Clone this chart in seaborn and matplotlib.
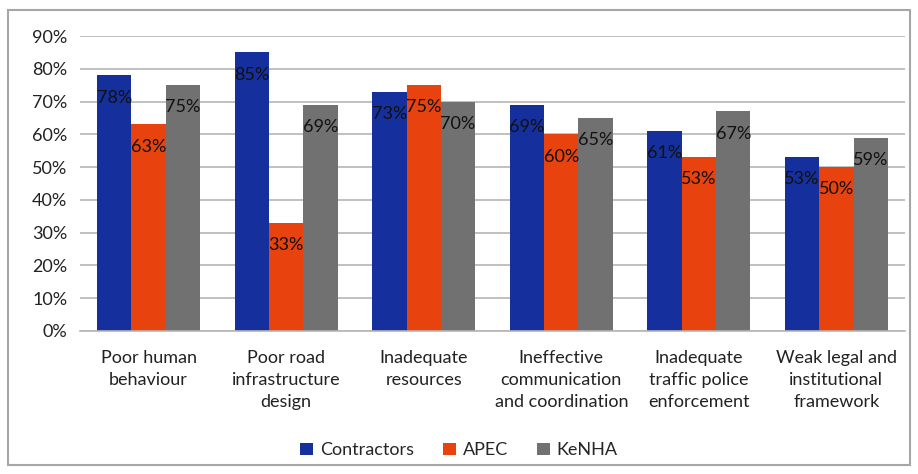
import pandas as pd
import matplotlib
matplotlib.use("Agg")
import matplotlib.pyplot as plt
import seaborn as sns
from matplotlib.patches import Rectangle

# Chart data
categories = [
    "Poor human\nbehaviour",
    "Poor road\ninfrastructure\ndesign",
    "Inadequate\nresources",
    "Ineffective\ncommunication\nand coordination",
    "Inadequate\ntraffic police\nenforcement",
    "Weak legal and\ninstitutional\nframework",
]
groups = ["Contractors", "APEC", "KeNHA"]
contractors = [0.78, 0.85, 0.73, 0.69, 0.61, 0.53]
apec = [0.63, 0.33, 0.75, 0.60, 0.53, 0.50]
kenha = [0.75, 0.69, 0.70, 0.65, 0.67, 0.59]
y_ticks = [0.0, 0.1, 0.2, 0.3, 0.4, 0.5, 0.6, 0.7, 0.8, 0.9]

colors = ["#15309c", "#e8430e", "#717171"]

rows = []
for g, vals in zip(groups, [contractors, apec, kenha]):
    for c, v in zip(categories, vals):
        rows.append({"category": c, "group": g, "value": v})
df = pd.DataFrame(rows)

sns.set_style("white")
plt.rcParams["font.family"] = ["Lato", "DejaVu Sans"]

fig = plt.figure(figsize=(9.18, 4.74), dpi=100)
ax = fig.add_axes([0.087, 0.302, 0.899, 0.622])

sns.barplot(data=df, x="category", y="value", hue="group", palette=colors,
            width=0.75, gap=0, saturation=1, linewidth=0, ax=ax, legend=True)

# value labels just inside the top of each bar
for cont in ax.containers:
    for bar in cont:
        h = bar.get_height()
        ax.annotate(f"{h*100:.0f}%", (bar.get_x() + bar.get_width() / 2, h),
                    xytext=(0, -16), textcoords="offset points",
                    ha="center", va="center", fontsize=13, color="#111111")

ax.set_ylim(0, 0.9)
ax.set_yticks(y_ticks)
ax.set_yticklabels([f"{t*100:.0f}%" for t in y_ticks], fontsize=13, color="#222222")
ax.set_xticks(range(len(categories)))
ax.set_xticklabels(categories, fontsize=13, color="#222222", linespacing=1.45)
ax.tick_params(axis="x", length=0, pad=14)
ax.tick_params(axis="y", length=0, pad=9)
ax.set_xlabel("")
ax.set_ylabel("")
ax.yaxis.grid(True, color="#b5b5b5", linewidth=1.2)
ax.set_axisbelow(True)
for s in ["top", "right", "left"]:
    ax.spines[s].set_visible(False)
ax.spines["bottom"].set_color("#b5b5b5")
ax.spines["bottom"].set_linewidth(1.2)
ax.set_xlim(-0.5, 5.5)

handles, labels = ax.get_legend_handles_labels()
ax.legend(handles, labels, loc="center", bbox_to_anchor=(0.5, 0.05),
          bbox_transform=fig.transFigure, ncol=3, frameon=False, fontsize=13,
          handlelength=0.7, handleheight=0.7, handletextpad=0.4, columnspacing=1.6)

# outer chart border
fig.patches.append(Rectangle((8 / 918, 1 - 465 / 474), 902 / 918, 455 / 474,
                             transform=fig.transFigure, fill=False,
                             edgecolor="#a6a6a6", linewidth=1.5))

fig.savefig("out.png", dpi=100)
